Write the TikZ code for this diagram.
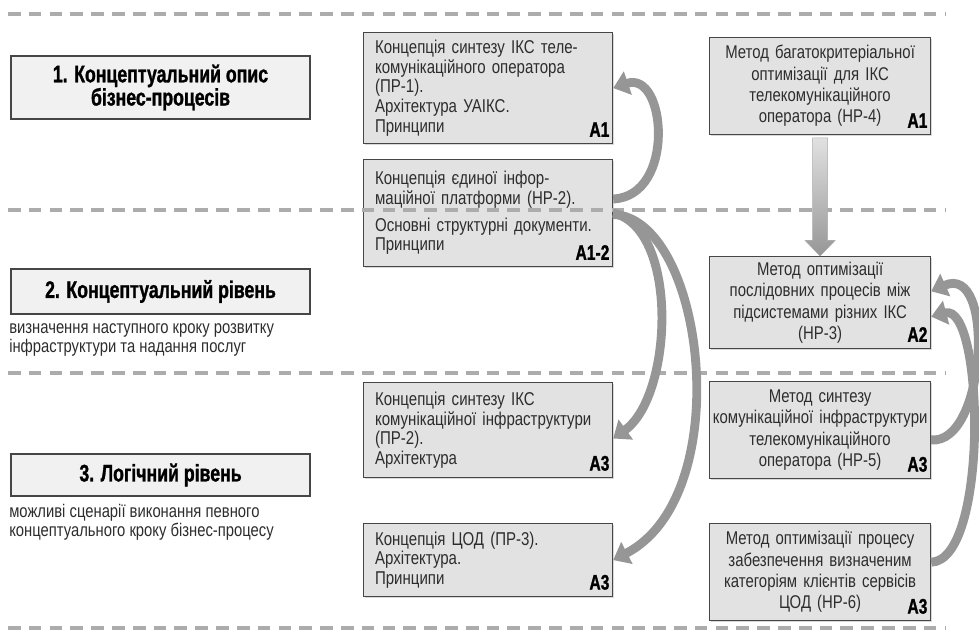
\documentclass[tikz,border=0pt]{standalone}
\usepackage{fontspec}
\setmainfont{Liberation Sans}[FakeStretch=0.81]
\newfontfamily\headfont{Liberation Sans}[FakeStretch=0.74, BoldFeatures={FakeBold=1.2}]
\usetikzlibrary{positioning, arrows.meta, shadows}
\definecolor{boxgray}{RGB}{226,226,226}
\definecolor{headgray}{RGB}{241,241,241}
\definecolor{framegray}{RGB}{70,70,70}
\definecolor{linegray}{RGB}{172,172,172}
\definecolor{arrowgray}{RGB}{150,150,150}
\definecolor{arrowlight}{RGB}{225,225,225}
\definecolor{textgray}{RGB}{45,45,45}

\begin{document}
\begin{tikzpicture}[x=0.025cm, y=-0.025cm,
    headbox/.style={draw=framegray, line width=1.4pt, fill=headgray, anchor=north west,
      minimum width=7.475cm, align=center, inner sep=0pt,
      font={\headfont\bfseries\fontsize{17}{16.5}\selectfont},
      drop shadow={shadow xshift=1pt, shadow yshift=-1pt, opacity=.3}},
    subtext/.style={anchor=north west, align=left, inner sep=0pt, text=textgray,
      font={\fontsize{13}{13.6}\selectfont}},
    conbox/.style={draw=framegray, line width=0.8pt, fill=boxgray, anchor=north west,
      minimum width=6.225cm, text width=5.65cm, inner xsep=8pt, align=left, text=textgray,
      font={\fontsize{13.2}{14}\selectfont},
      drop shadow={shadow xshift=1pt, shadow yshift=-1pt, opacity=.3}},
    methbox/.style={draw=framegray, line width=0.8pt, fill=boxgray, anchor=north west,
      minimum width=5.525cm, text width=5.45cm, inner xsep=0.5pt, align=center, text=textgray,
      font={\fontsize{13.1}{15.2}\selectfont},
      drop shadow={shadow xshift=1pt, shadow yshift=-1pt, opacity=.3}},
    tag/.style={anchor=south east, inner sep=0pt, font={\headfont\bfseries\fontsize{15}{15}\selectfont}},
    sepline/.style={draw=linegray, line width=2.2pt, dash pattern=on 9pt off 5.8pt},
    flow/.style={draw=arrowgray, line width=6.3pt, -{Triangle[width=17pt,length=11pt]}}
  ]
  \useasboundingbox (0,0) rectangle (979,642);

  \node[headbox, minimum height=1.575cm] (h1) at (10,55) {1. Концептуальний опис\\бізнес-процесів};
  \node[headbox, minimum height=1.125cm] (h2) at (10,268) {2. Концептуальний рівень};
  \node[subtext] (s2) at (9,323) {визначення наступного кроку розвитку\\інфраструктури та надання послуг};
  \node[headbox, minimum height=1.05cm] (h3) at (10,453) {3. Логічний рівень};
  \node[subtext] (s3) at (9,504) {можливі сценарії виконання певного\\концептуального кроку бізнес-процесу};

  \node[conbox, minimum height=2.775cm] (c1) at (363,32)
    {Концепція синтезу ІКС теле-\\комунікаційного оператора\\(ПР-1).\\Архітектура УАІКС.\\Принципи};
  \node[conbox, minimum height=2.675cm] (c2) at (363,159)
    {Концепція єдиної інфор-\\маційної платформи (НР-2).\\[5pt]Основні структурні документи.\\Принципи};
  \node[conbox, minimum height=2.375cm] (p2) at (363,382)
    {Концепція синтезу ІКС\\комунікаційної інфраструктури\\(ПР-2).\\Архітектура};
  \node[conbox, minimum height=1.825cm] (p3) at (363,523)
    {Концепція ЦОД (ПР-3).\\Архітектура.\\Принципи};

  \node[methbox, minimum height=2.425cm] (r4) at (709,37)
    {Метод багатокритеріальної\\оптимізації для ІКС\\телекомунікаційного\\оператора (НР-4)};
  \node[methbox, minimum height=2.3cm] (r3) at (709,256)
    {Метод оптимізації\\послідовних процесів між\\підсистемами різних ІКС\\(НР-3)};
  \node[methbox, minimum height=2.425cm] (r5) at (709,381)
    {Метод синтезу\\комунікаційної інфраструктури\\телекомунікаційного\\оператора (НР-5)};
  \node[methbox, minimum height=2.425cm] (r6) at (709,523)
    {Метод оптимізації процесу\\забезпечення визначеним\\категоріям клієнтів сервісів\\ЦОД (НР-6)};

  \node[tag] (c1tag) at ([shift={(-2.5pt,5pt)}]c1.south east) {А1};
  \node[tag] (c2tag) at ([shift={(-2.5pt,5pt)}]c2.south east) {А1-2};
  \node[tag] (p2tag) at ([shift={(-2.5pt,5pt)}]p2.south east) {А3};
  \node[tag] (p3tag) at ([shift={(-2.5pt,5pt)}]p3.south east) {А3};
  \node[tag] (r4tag) at ([shift={(-2.5pt,5pt)}]r4.south east) {А1};
  \node[tag] (r3tag) at ([shift={(-2.5pt,5pt)}]r3.south east) {А2};
  \node[tag] (r5tag) at ([shift={(-2.5pt,5pt)}]r5.south east) {А3};
  \node[tag] (r6tag) at ([shift={(-2.5pt,5pt)}]r6.south east) {А3};

  \foreach \ly in {14,210,373,628}
    \draw[sepline] (8,\ly) -- (946,\ly);

  \path[top color=arrowlight, bottom color=arrowgray, draw=arrowgray!80, thin]
    ([shift={(-5.3pt,-2pt)}]r4.south) -- ([shift={(5.3pt,-2pt)}]r4.south)
    -- ([shift={(5.3pt,11pt)}]r3.north) -- ([shift={(10.6pt,11pt)}]r3.north)
    -- (r3.north) -- ([shift={(-10.6pt,11pt)}]r3.north)
    -- ([shift={(-5.3pt,11pt)}]r3.north) -- cycle;

  \draw[flow] ([yshift=10pt]c2.east) .. controls +(63,-3) and +(53,-18) .. (c1.east);
  \draw[flow] (c2.east) .. controls +(66,15) and +(60,-43) .. ([yshift=-6pt]p2.east);
  \draw[flow] ([yshift=-1pt]c2.east) .. controls +(91,3) and +(125,-65) .. (p3.east);
  \draw[flow] ([yshift=-7pt]r5.east) .. controls +(55,5) and +(65,-29) .. ([yshift=8pt]r3.east);
  \draw[flow] ([yshift=7pt]r6.east) .. controls +(58,-2) and +(53,-14) .. ([yshift=-10pt]r3.east);
\end{tikzpicture}
\end{document}
